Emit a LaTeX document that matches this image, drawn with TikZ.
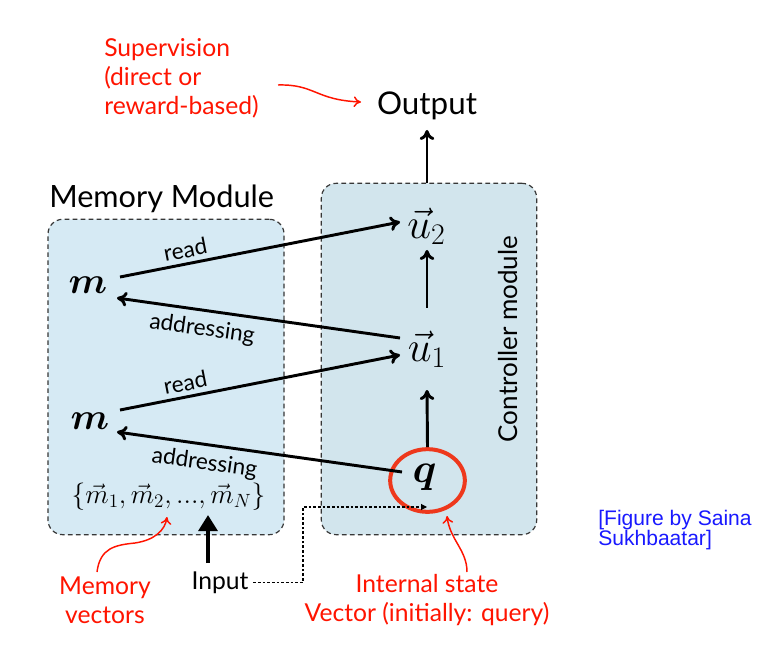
\RequirePackage{fix-cm}
\documentclass[tikz,border=0pt]{standalone}
\usepackage{amsmath}
\usepackage{bm}
\usepackage[no-math]{fontspec}
\newfontfamily\lato{Lato}
\newfontfamily\arialf{Liberation Sans}
\usetikzlibrary{arrows.meta,shapes.geometric,calc}
\definecolor{membg}{RGB}{214,234,244}
\definecolor{ctrlbg}{RGB}{210,229,237}
\definecolor{boxline}{RGB}{55,55,55}
\definecolor{redtxt}{RGB}{255,20,0}
\definecolor{redcirc}{RGB}{238,56,28}
\definecolor{bluetxt}{RGB}{25,25,255}
\begin{document}
\begin{tikzpicture}[x=0.75pt,y=-0.75pt,
  modbox/.style={draw=boxline, line width=0.9pt, dash pattern=on 3.5pt off 2.5pt, rounded corners=11pt, inner sep=0pt},
  arr/.style={line width=2.2pt, -{To[length=7.5pt,width=11pt]}},
  lbl/.style={font=\lato\fontsize{17}{20}\selectfont},
  redarr/.style={draw=redtxt, line width=1.1pt, -{To[length=5.5pt,width=8pt]}},
  redlbl/.style={text=redtxt, font=\lato\fontsize{18.5}{21.75}\selectfont},
  mathnode/.style={inner sep=0pt},
  inpdash/.style={line width=0.8pt, dash pattern=on 2pt off 1.5pt, -{Triangle[length=4.5pt,width=4.5pt]}}
]
\path[use as bounding box, fill=white] (0,0) rectangle (763,648);

% module boxes
\node[modbox, fill=membg, minimum width=177pt, minimum height=236.5pt] (membox) at (166,377) {};
\node[modbox, fill=ctrlbg, minimum width=161.5pt, minimum height=263.5pt] (ctrl) at (429,359) {};

% titles
\node[anchor=base west, inner sep=0pt, font=\lato\fontsize{23}{27}\selectfont] (memtitle) at (49,208) {Memory Module};
\node[rotate=90, font=\lato\fontsize{19.5}{22}\selectfont] (ctrllbl) at (508,339) {Controller module};
\node[anchor=base, font=\lato\fontsize{23.5}{27}\selectfont] (output) at (427,115) {Output};

% math nodes
\node[mathnode, font=\fontsize{28}{32}\selectfont] (m1) at (88,285) {$\bm{m}$};
\node[mathnode, font=\fontsize{28}{32}\selectfont] (m2) at (90,421) {$\bm{m}$};
\node[mathnode, font=\fontsize{32}{36}\selectfont] (u2) at (426.5,226) {$\vec{u}_2$};
\node[mathnode, font=\fontsize{32}{36}\selectfont] (u1) at (427,349) {$\vec{u}_1$};
\node[mathnode, font=\fontsize{31}{35}\selectfont] (q) at (424.5,477.5) {$\bm{q}$};
\node[mathnode, font=\fontsize{20.5}{24}\selectfont] (mset) at (168.5,497) {$\{\vec{m}_1,\vec{m}_2,...,\vec{m}_N\}$};
\node[draw=redcirc, line width=3pt, ellipse, minimum width=56pt, minimum height=47pt, inner sep=0pt] (qc) at (427.5,480.5) {};

% connectors
\draw[arr] ($(m1)+(32,-8)$) -- node[lbl, sloped, above=0pt, pos=0.243] {read} ($(u2)+(-26.5,-4)$);
\draw[arr] ($(u1)+(-27,-11)$) -- node[lbl, sloped, below=2pt, pos=0.69] {addressing} ($(m1)+(29,13)$);
\draw[arr] ($(m2)+(30,-11)$) -- node[lbl, sloped, above=0pt, pos=0.243] {read} ($(u1)+(-27,6)$);
\draw[arr] ($(q)+(-22.5,-5.5)$) -- node[lbl, sloped, below=2pt, pos=0.684] {addressing} ($(m2)+(27,11)$);
\draw[arr] ($(u1)+(0,-41)$) -- ($(u2)+(0.5,24)$);
\draw[arr] (qc.north) -- ($(u1)+(0,41)$);
\draw[arr] (output |- ctrl.north) -- ($(output.base)+(0,15)$);

% supervision
\node[redlbl, anchor=west, align=left, inner sep=0pt] (sup) at (104,78) {Supervision\\(direct or\\reward-based)};
\coordinate (supA) at (278,85);
\coordinate (supB) at (361,102);
\draw[redarr] (supA) .. controls (315,84) and (315,100) .. (supB);

% bottom labels
\node[anchor=base, font=\lato\fontsize{18.5}{22}\selectfont] (input) at (220,589) {Input};
\draw[line width=3.6pt, -{Triangle[length=12pt,width=14pt]}] ($(input.base)+(-12,-26)$) -- ($(input.base)+(-12,-74)$);
\coordinate (corner) at (303,507);
\coordinate (qin) at (427,507);
\draw[inpdash] (input.east) -- (input.east -| corner) |- (qin);

\node[redlbl, align=center] (memvec) at (105,600) {Memory\\vectors};
\coordinate (mvA) at (97,572);
\coordinate (mvB) at (167,517);
\draw[redarr] (mvA) .. controls (100,548) and (115,545) .. (135,543) .. controls (155,540) and (165,530) .. (mvB);

\node[redlbl, align=center] (intstate) at (427,600) {Internal state\\Vector (initially: query)};
\coordinate (isA) at (467,572);
\coordinate (isB) at (447,516);
\draw[redarr] (isA) .. controls (467,550) and (450,540) .. (isB);

\node[anchor=base west, inner sep=0pt, text=bluetxt, align=left, font=\arialf\fontsize{15.8}{15}\selectfont] (credit) at (598,545) {[Figure by Saina\\Sukhbaatar]};
\end{tikzpicture}
\end{document}
